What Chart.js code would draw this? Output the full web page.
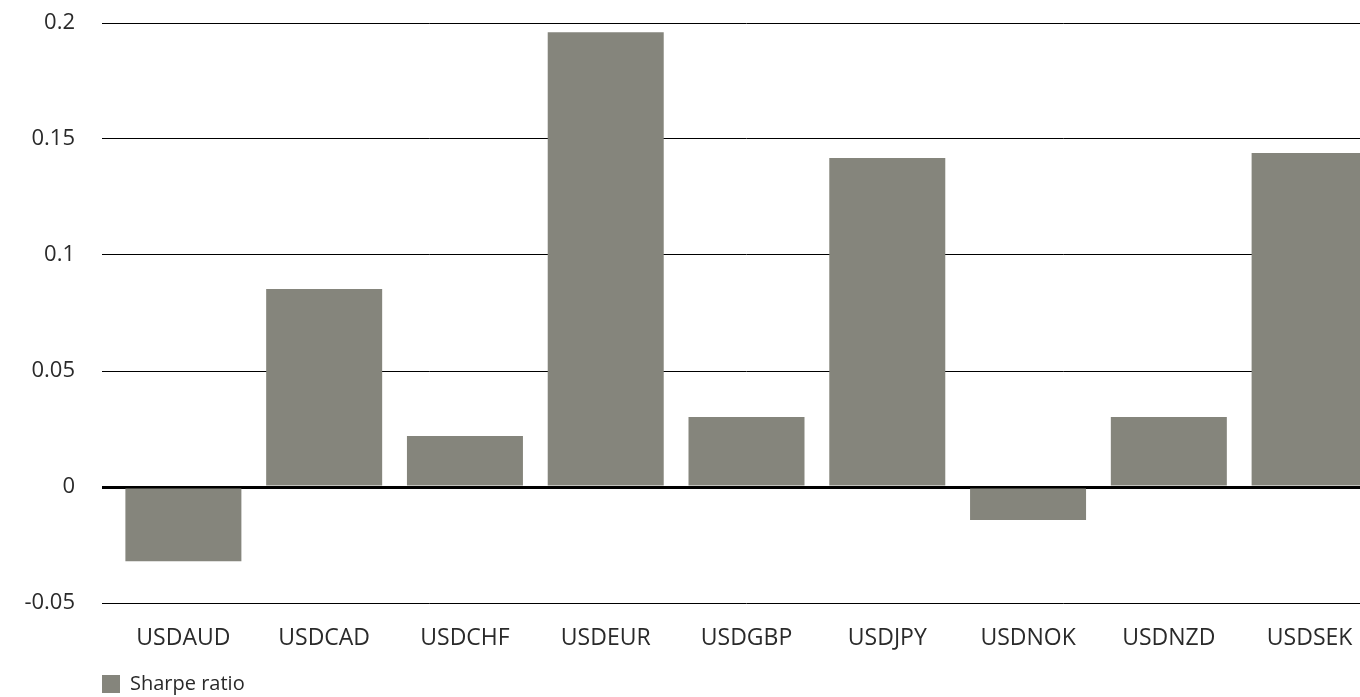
<!DOCTYPE html>
<html>
<head>
<meta charset="utf-8">
<script src="https://cdn.jsdelivr.net/npm/chart.js@4"></script>
<style>
  html, body { margin: 0; padding: 0; background: #fff; overflow: hidden; }
  #wrap { width: 1387px; height: 697px; }
</style>
</head>
<body>
<div id="wrap"><canvas id="chart"></canvas></div>
<script>
// ---------- Data ----------
const pairs = ["USDAUD", "USDCAD", "USDCHF", "USDEUR", "USDGBP", "USDJPY", "USDNOK", "USDNZD", "USDSEK"];
const sharpe = [-0.032, 0.0853, 0.022, 0.196, 0.0302, 0.1418, -0.0142, 0.0302, 0.144];
const yTicks = [-0.05, 0, 0.05, 0.1, 0.15, 0.2];
const yTickLabels = ["-0.05", "0", "0.05", "0.1", "0.15", "0.2"];

const FONT = "'Open Sans', 'Noto Sans', sans-serif";
const TEXT = "#2a2a2a";
const BAR = "#85857c";

// shift the legend so it lines up with the gridline start
const legendShift = {
  id: "legendShift",
  afterLayout(chart) {
    const lg = chart.legend;
    if (!lg) return;
    const dy = 684 - (lg.top + 10 + 10);
    lg.left += 92; lg.right += 92;
    lg.top += dy; lg.bottom += dy;
  }
};

new Chart(document.getElementById("chart"), {
  type: "bar",
  data: {
    labels: pairs,
    datasets: [{
      label: "Sharpe ratio",
      data: sharpe,
      backgroundColor: BAR,
      borderWidth: 0,
      categoryPercentage: 1,
      barPercentage: 0.824
    }]
  },
  options: {
    responsive: true,
    maintainAspectRatio: false,
    animation: false,
    layout: { padding: { top: 23, right: 7, left: 0, bottom: 0 } },
    plugins: {
      legend: {
        position: "bottom",
        align: "start",
        labels: { boxWidth: 18, boxHeight: 18, padding: 10, color: TEXT, font: { family: FONT, size: 20 } }
      },
      tooltip: { enabled: false }
    },
    scales: {
      x: {
        afterFit(scale) { scale.height = 54; scale.paddingLeft = 0; scale.paddingRight = 0; },
        grid: { display: false },
        border: { display: false },
        ticks: { color: TEXT, padding: 14, font: { family: FONT, size: 23 }, maxRotation: 0 }
      },
      y: {
        min: -0.05,
        max: 0.2,
        afterFit(scale) { scale.width = 113; scale.paddingTop = 0; scale.paddingBottom = 0; },
        afterBuildTicks(scale) { scale.ticks = yTicks.map(v => ({ value: v })); },
        border: { display: false },
        grid: {
          color: "#000",
          tickLength: 11,
          lineWidth: ctx => (ctx.tick && ctx.tick.value === 0 ? 3 : 1)
        },
        ticks: {
          color: TEXT,
          padding: 27,
          font: { family: FONT, size: 22 },
          callback: v => yTickLabels[yTicks.indexOf(+v.toFixed(2))] ?? ""
        }
      }
    }
  },
  plugins: [legendShift]
});
</script>
</body>
</html>
